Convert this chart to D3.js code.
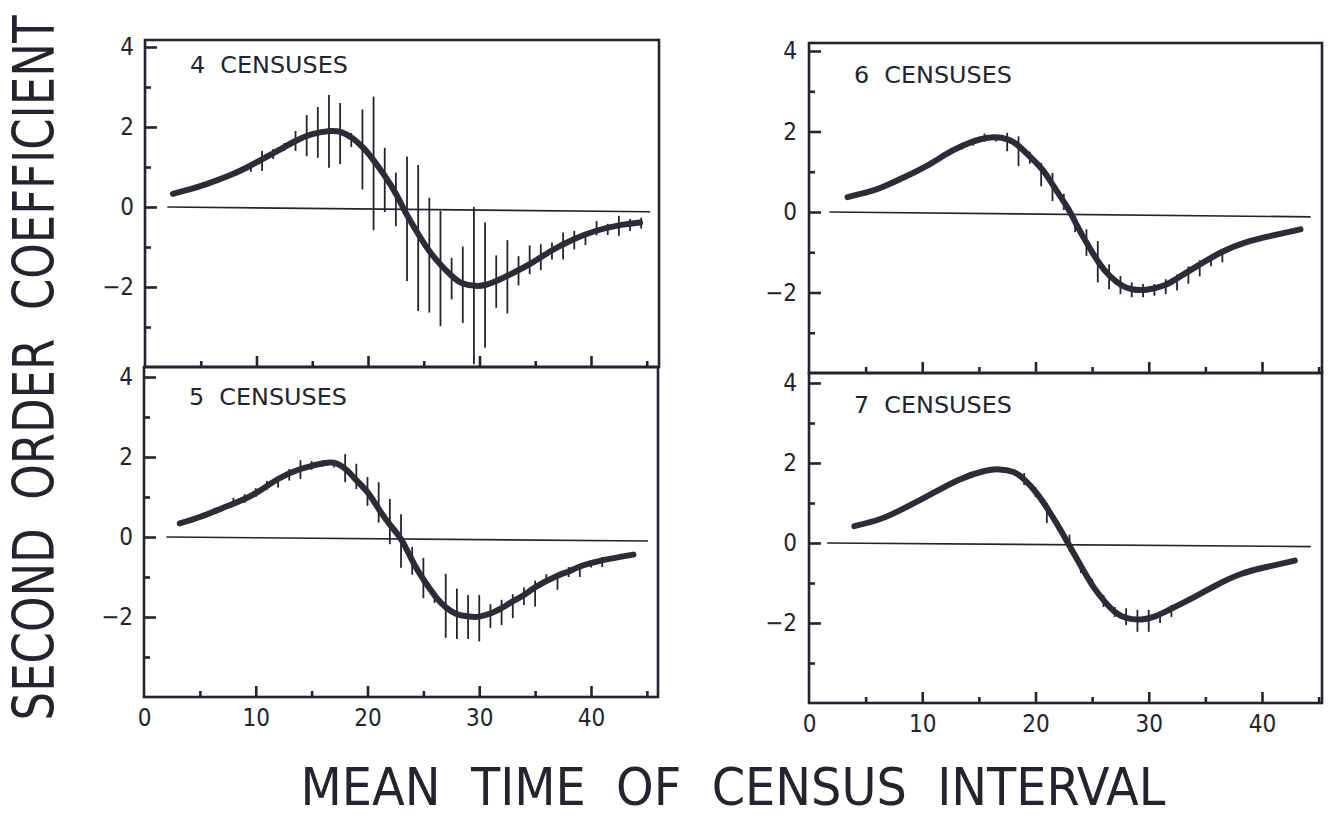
<!DOCTYPE html>
<html><head><meta charset="utf-8">
<script src="https://cdn.jsdelivr.net/npm/d3@7"></script>
<style>
body{margin:0;background:#fff;}
svg text{font-family:"DejaVu Sans Condensed","Liberation Sans Narrow","DejaVu Sans",sans-serif;font-stretch:condensed;fill:#23242e;}
</style></head><body>
<svg id="chart" width="1329" height="818"></svg>
<script>
// ---------------- DATA ----------------
const panelTitles = ["4  CENSUSES", "5  CENSUSES", "6  CENSUSES", "7  CENSUSES"];
const xMajorTicks = [0, 10, 20, 30, 40];
const xMinorTicks = [5, 15, 25, 35, 45];
const yMajorTicks = [-2, 0, 2, 4];
const yMinorTicks = [-3, -1, 1, 3];
const xTitle = "MEAN  TIME  OF  CENSUS  INTERVAL";
const yTitle = "SECOND  ORDER  COEFFICIENT";

// 4 censuses
const curve4X = [2.5, 4, 5.5, 7.5, 9, 10.5, 12, 13.5, 15, 16.6, 17.6, 18.6, 19.5, 20.2, 21.5, 22.6, 23.4, 24.6, 25.5, 26.6, 27.5, 28.4, 29.6, 30.5, 31.5, 32.5, 34.5, 36.4, 38.5, 40.4, 42.5, 44.4];
const curve4Y = [0.33, 0.44, 0.57, 0.78, 0.97, 1.19, 1.42, 1.65, 1.82, 1.9, 1.87, 1.72, 1.5, 1.28, 0.78, 0.28, -0.15, -0.72, -1.1, -1.47, -1.72, -1.9, -1.97, -1.95, -1.85, -1.72, -1.43, -1.1, -0.8, -0.6, -0.46, -0.39];
const err4X  = [9.5, 10.5, 11.5, 12.5, 13.5, 14.5, 15.5, 16.5, 17.5, 18.5, 19.5, 20.5, 21.5, 22.5, 23.5, 24.5, 25.5, 26.5, 27.5, 28.5, 29.5, 30.5, 31.5, 32.5, 33.5, 34.5, 35.5, 36.5, 37.5, 38.5, 39.5, 40.5, 41.5, 42.5, 43.5, 44.5];
const err4Lo = [0.88, 0.9, 1.2, 1.4, 1.4, 1.27, 1.23, 0.98, 1.07, 1.5, 0.44, -0.58, -0.13, -0.48, -1.85, -2.6, -2.64, -2.98, -2.31, -2.9, -3.93, -3.52, -2.52, -2.66, -1.96, -1.68, -1.58, -1.31, -1.31, -1.06, -0.95, -0.71, -0.7, -0.72, -0.6, -0.54];
const err4Hi = [1.12, 1.4, 1.45, 1.6, 1.9, 2.3, 2.5, 2.8, 2.6, 1.85, 2.44, 2.76, 1.48, 0.86, 1.26, 1.05, 0.23, -0.1, -1.27, -0.99, 0.0, -0.39, -1.21, -0.83, -1.23, -0.96, -0.93, -0.89, -0.64, -0.6, -0.65, -0.35, -0.42, -0.22, -0.3, -0.27];

// 5 censuses
const curve5X = [3.2, 5, 7, 9, 10.5, 12, 14, 16.2, 17.3, 18.2, 19, 20, 21.1, 22.2, 23.1, 24.2, 25.1, 26.2, 27.1, 28, 29.1, 30, 31.1, 32, 33, 34, 35.1, 36.9, 38, 38.9, 40.9, 43.8];
const curve5Y = [0.34, 0.5, 0.72, 0.95, 1.18, 1.45, 1.7, 1.85, 1.83, 1.66, 1.42, 1.12, 0.66, 0.24, -0.1, -0.69, -1.1, -1.53, -1.78, -1.93, -1.99, -1.99, -1.9, -1.78, -1.61, -1.45, -1.24, -0.98, -0.86, -0.75, -0.59, -0.44];
const err5X  = [8, 9, 10, 11, 12, 13, 14, 15, 16, 17, 18, 19, 20, 21, 22, 23, 24, 25, 26, 27, 28, 29, 30, 31, 32, 33, 34, 35, 36, 37, 38, 39, 40, 41];
const err5Lo = [0.78, 0.85, 1.0, 1.18, 1.24, 1.41, 1.45, 1.68, 1.76, 1.74, 1.37, 1.2, 0.78, 0.36, -0.18, -0.77, -0.94, -1.53, -1.65, -2.52, -2.55, -2.55, -2.61, -2.27, -2.2, -2.03, -1.7, -1.74, -1.15, -1.32, -1.0, -1.0, -0.76, -0.75];
const err5Hi = [0.98, 1.07, 1.22, 1.4, 1.5, 1.7, 1.92, 1.9, 1.92, 1.92, 2.07, 1.83, 1.5, 1.37, 0.95, 0.57, -0.25, -0.52, -1.35, -0.92, -1.29, -1.45, -1.45, -1.68, -1.57, -1.43, -1.26, -1.09, -0.93, -0.9, -0.75, -0.73, -0.58, -0.5];

// 6 censuses
const curve6X = [3.4, 5, 6.4, 8.3, 10.6, 12, 13.5, 15.7, 17.6, 18.6, 19.6, 20.7, 21.6, 22.8, 23.6, 24.5, 25.6, 26.6, 27.6, 28.5, 29.8, 31.4, 32.5, 34.3, 36.4, 38.5, 40.7, 43.4];
const curve6Y = [0.37, 0.48, 0.61, 0.85, 1.18, 1.42, 1.64, 1.84, 1.8, 1.62, 1.35, 1.02, 0.64, 0.12, -0.3, -0.76, -1.26, -1.6, -1.82, -1.92, -1.93, -1.82, -1.65, -1.34, -1.0, -0.76, -0.6, -0.43];
const err6X  = [13.5, 14.5, 15.5, 16.5, 17.5, 18.5, 19.5, 20.5, 21.5, 22.5, 23.5, 24.5, 25.5, 26.5, 27.5, 28.5, 29.5, 30.5, 31.5, 32.5, 33.5, 34.5, 35.5, 36.5];
const err6Lo = [1.55, 1.65, 1.75, 1.75, 1.51, 1.14, 1.2, 0.64, 0.27, 0.05, -0.5, -1.09, -1.75, -1.92, -2.04, -2.12, -2.12, -2.08, -2.04, -1.95, -1.78, -1.6, -1.35, -1.25];
const err6Hi = [1.72, 1.82, 1.95, 1.92, 1.97, 1.88, 1.5, 1.22, 0.97, 0.45, -0.1, -0.43, -0.72, -1.3, -1.59, -1.75, -1.79, -1.79, -1.67, -1.55, -1.35, -1.2, -1.15, -0.98];

// 7 censuses
const curve7X = [4.0, 6.3, 8.2, 10.7, 13.3, 15.5, 16.8, 18, 19, 20.2, 21.3, 22.2, 23.2, 24.2, 25.1, 26.1, 27, 28, 29.3, 30.5, 31.8, 34.1, 36, 38.2, 40.4, 42.9];
const curve7Y = [0.42, 0.6, 0.84, 1.21, 1.59, 1.8, 1.84, 1.78, 1.59, 1.21, 0.75, 0.33, -0.17, -0.67, -1.09, -1.46, -1.72, -1.87, -1.91, -1.84, -1.67, -1.34, -1.05, -0.77, -0.6, -0.44];
const err7X  = [19, 20, 21, 22, 23, 24, 25, 26, 27, 28, 29, 30, 31, 32];
const err7Lo = [1.45, 1.15, 0.5, 0.3, -0.21, -0.75, -1.15, -1.6, -1.85, -2.05, -2.22, -2.22, -2.0, -1.85];
const err7Hi = [1.75, 1.4, 1.0, 0.55, 0.21, -0.45, -0.9, -1.3, -1.6, -1.63, -1.67, -1.67, -1.72, -1.55];

// zero reference lines: start x, end x, end y (slight drift of the drawn line)
const zeroStartX = [2.0, 2.0, 1.8, 1.6];
const zeroEndX   = [45.3, 45.1, 44.3, 44.3];
const zeroEndY   = [-0.12, -0.1, -0.12, -0.09];

// ---------------- LAYOUT ----------------
const panels = [
  {title: panelTitles[0], cx: curve4X, cy: curve4Y, ex: err4X, elo: err4Lo, ehi: err4Hi,
   x0: 145, x40: 591, right: 659, yBot: 367, yTop4: 47, frameTop: 40, labels: false, titleY: 73, pad: 11},
  {title: panelTitles[1], cx: curve5X, cy: curve5Y, ex: err5X, elo: err5Lo, ehi: err5Hi,
   x0: 144, x40: 591, right: 658, yBot: 697, yTop4: 377, frameTop: 367, labels: true, titleY: 405, pad: 11},
  {title: panelTitles[2], cx: curve6X, cy: curve6Y, ex: err6X, elo: err6Lo, ehi: err6Hi,
   x0: 809, x40: 1262, right: 1322, yBot: 373, yTop4: 51, frameTop: 43, labels: false, titleY: 83, pad: 12},
  {title: panelTitles[3], cx: curve7X, cy: curve7Y, ex: err7X, elo: err7Lo, ehi: err7Hi,
   x0: 809, x40: 1262, right: 1322, yBot: 703, yTop4: 383, frameTop: 373, labels: true, titleY: 413, pad: 12}
];
const ink = "#23242e";
const svg = d3.select("#chart");

// place a text so that its width and cap height match the target
function fitText(str, tx, ty, rot, width, cap, anchor) {
  const t = svg.append("text").style("white-space", "pre")
    .attr("font-size", 100).attr("text-anchor", anchor).text(str);
  const len = t.node().getComputedTextLength();
  const fs = 100 * width / len;
  const sy = cap / (0.729 * fs);
  t.attr("font-size", fs)
   .attr("transform", `translate(${tx},${ty}) rotate(${rot}) scale(1,${sy})`);
  return t;
}

panels.forEach((p, i) => {
  const x = d3.scaleLinear().domain([0, 40]).range([p.x0, p.x40]);
  const y = d3.scaleLinear().domain([-4, 4]).range([p.yBot, p.yTop4]);
  const g = svg.append("g");

  // frame
  g.append("rect").attr("x", p.x0).attr("y", p.frameTop)
    .attr("width", p.right - p.x0).attr("height", p.yBot - p.frameTop)
    .attr("fill", "none").attr("stroke", ink).attr("stroke-width", 2.6);

  // x axis (ticks inward)
  const gxM = g.append("g").attr("transform", `translate(0,${p.yBot})`)
    .call(d3.axisBottom(x).tickValues(xMajorTicks).tickSize(-11).tickPadding(12)
      .tickFormat(p.labels ? d3.format("d") : () => ""));
  const gxm = g.append("g").attr("transform", `translate(0,${p.yBot})`)
    .call(d3.axisBottom(x).tickValues(xMinorTicks).tickSize(-6).tickFormat(() => ""));
  // y axis
  const gyM = g.append("g").attr("transform", `translate(${p.x0},0)`)
    .call(d3.axisLeft(y).tickValues(yMajorTicks).tickSize(-12).tickPadding(p.pad));
  const gym = g.append("g").attr("transform", `translate(${p.x0},0)`)
    .call(d3.axisLeft(y).tickValues(yMinorTicks).tickSize(-6).tickFormat(() => ""));
  [gxM, gxm, gyM, gym].forEach(a => {
    a.attr("font-family", null).attr("font-size", null);
    a.select(".domain").remove();
    a.selectAll("line").attr("stroke", ink).attr("stroke-width", 2.6);
    a.selectAll("text").attr("font-size", 24).attr("fill", ink);
  });
  gxM.selectAll(".tick").filter(d => d === 0).select("line").remove();

  // zero line
  g.append("line")
    .attr("x1", x(zeroStartX[i])).attr("y1", y(0))
    .attr("x2", x(zeroEndX[i])).attr("y2", y(zeroEndY[i]))
    .attr("stroke", ink).attr("stroke-width", 1.6);

  // error bars
  g.selectAll(".eb").data(p.ex.map((v, k) => ({x: v, lo: p.elo[k], hi: p.ehi[k]})))
    .enter().append("line")
    .attr("x1", d => x(d.x)).attr("x2", d => x(d.x))
    .attr("y1", d => y(d.lo)).attr("y2", d => y(d.hi))
    .attr("stroke", ink).attr("stroke-width", 1.8);

  // curve
  const line = d3.line().x(d => x(d[0])).y(d => y(d[1])).curve(d3.curveNatural);
  g.append("path").datum(p.cx.map((v, k) => [v, p.cy[k]]))
    .attr("d", line).attr("fill", "none").attr("stroke", "#2b2c38")
    .attr("stroke-width", 6).attr("stroke-linecap", "round");

  // panel title
  fitText(p.title, p.x0 + 45, p.titleY, 0, 158, 17, "start");
});

// axis titles
fitText(xTitle, 733, 805, 0, 865, 37, "middle");
fitText(yTitle, 54, 368, -90, 705, 42, "middle");
</script>
</body></html>
